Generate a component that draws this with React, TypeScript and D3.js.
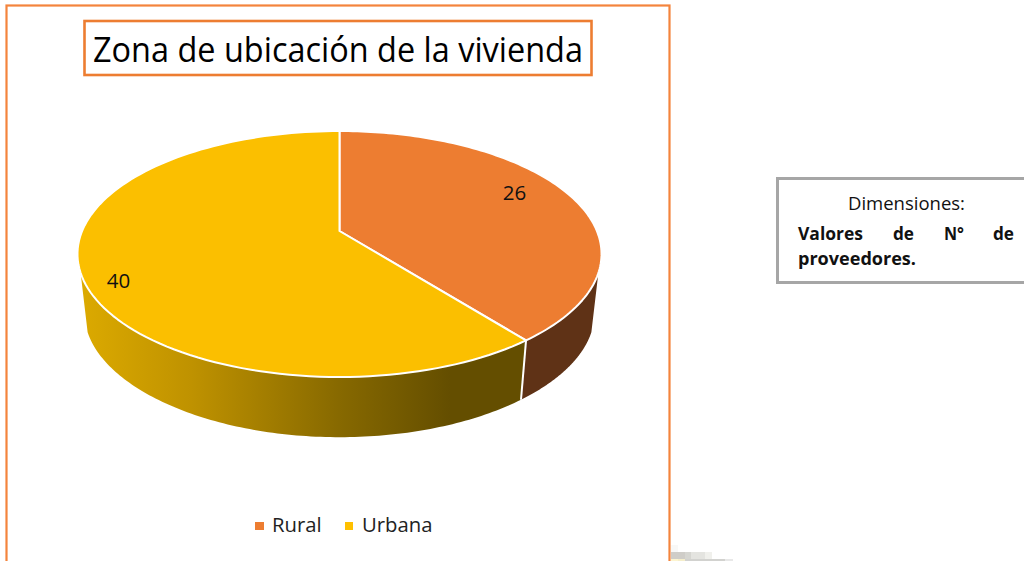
import React from "react";
import * as d3 from "d3";

const categories = ["Rural", "Urbana"];
const values = [26, 40];
const topColors = ["#ED7D31", "#FBBF00"];
const titleText = "Zona de ubicación de la vivienda";

const W = 1024, H = 561;
const CX = 339.5, CY = 231, A = 257.4, B = 118.7, P = 0.187;
const BOTTOM_Y0 = 291, BOTTOM_P = 0.21, SCALE = 0.973;
const VIS_START = (109.4 * Math.PI) / 180;
const VIS_END = (250.6 * Math.PI) / 180;

function rim(t: number, bottom = false): [number, number] {
  const c = Math.cos(t);
  const w = 1 + P * c;
  if (!bottom) return [CX + (A * Math.sin(t)) / w, CY - (B * c) / w];
  return [
    CX + (SCALE * A * Math.sin(t)) / w,
    BOTTOM_Y0 - (SCALE * B * c) / (1 + BOTTOM_P * c),
  ];
}

function angles(a0: number, a1: number) {
  return d3.range(0, 121).map((i) => a0 + ((a1 - a0) * i) / 120);
}

const line = d3.line<[number, number]>();

const smudge: [number, number, number, number, string][] = [
  [671, 545, 7, 7, "#f8f8f7"],
  [671, 552, 14, 7, "#cfcdc8"],
  [685, 552, 6, 7, "#d6d6d1"],
  [691, 552, 14, 7, "#e4e4e0"],
  [705, 552, 7, 7, "#f0f0ec"],
  [671, 559, 7, 2, "#fdf5d0"],
  [678, 559, 7, 2, "#f5eecb"],
  [685, 559, 40, 2, "#d2d2cf"],
  [725, 559, 8, 2, "#e8e8e8"],
];

export default function App() {
  const arcs = d3.pie<number>().sort(null)(values);
  return (
    <svg
      width={W}
      height={H}
      style={{ position: "absolute", left: 0, top: 0, background: "#fff" }}
      fontFamily="'Open Sans', sans-serif"
    >
      <defs>
        <linearGradient id="urbanSide" gradientUnits="userSpaceOnUse" x1={80} x2={450} y1={0} y2={0}>
          <stop offset="0" stopColor="#DCAA00" />
          <stop offset="0.3" stopColor="#BF9200" />
          <stop offset="0.7" stopColor="#876900" />
          <stop offset="1" stopColor="#644E00" />
        </linearGradient>
      </defs>

      <rect x={6.5} y={5.5} width={663} height={600} fill="#fff" stroke="#F4843D" strokeWidth={2.2} />

      {smudge.map(([x, y, w, h, c], i) => (
        <rect key={i} x={x} y={y} width={w} height={h} fill={c} />
      ))}

      {arcs.map((d, i) => {
        const a0 = Math.max(d.startAngle, VIS_START);
        const a1 = Math.min(d.endAngle, VIS_END);
        const ts = angles(a0, a1);
        const pts = [...ts.map((t) => rim(t)), ...ts.slice().reverse().map((t) => rim(t, true))];
        return (
          <path
            key={`side-${categories[i]}`}
            d={line(pts) + "Z"}
            fill={i === 0 ? "#5F3216" : "url(#urbanSide)"}
          />
        );
      })}
      {arcs.slice(1).map((d) => (
        <path
          key="seam"
          d={line([rim(d.startAngle), rim(d.startAngle, true)]) || ""}
          stroke="#fff"
          strokeWidth={2}
          fill="none"
        />
      ))}
      {arcs.map((d, i) => {
        const pts: [number, number][] = [[CX, CY], ...angles(d.startAngle, d.endAngle).map((t) => rim(t))];
        return (
          <path
            key={`top-${categories[i]}`}
            d={line(pts) + "Z"}
            fill={topColors[i]}
            stroke="#fff"
            strokeWidth={2}
            strokeLinejoin="round"
          />
        );
      })}

      <text x={514.5} y={200} fontSize={20.5} textAnchor="middle" fill="#111">{values[0]}</text>
      <text x={118.5} y={288} fontSize={20.5} textAnchor="middle" fill="#111">{values[1]}</text>

      <rect x={84.5} y={21} width={507} height={54} fill="#fff" stroke="#ED7D31" strokeWidth={2.6} />
      <text x={338} y={62} fontSize={34} textAnchor="middle" fill="#000" textLength={490} lengthAdjust="spacingAndGlyphs">{titleText}</text>

      <rect x={255} y={522} width={9} height={8} fill={topColors[0]} />
      <text x={272} y={532} fontSize={20.3} fill="#222">{categories[0]}</text>
      <rect x={345} y={522} width={8} height={8} fill="#FFC000" />
      <text x={362} y={532} fontSize={20.3} fill="#222">{categories[1]}</text>

      <rect x={777.5} y={178.5} width={260} height={104} fill="#fff" stroke="#A6A6A6" strokeWidth={3} />
      <g fill="#111">
        <text x={906.5} y={210} fontSize={17.5} textAnchor="middle" textLength={117} lengthAdjust="spacingAndGlyphs">Dimensiones:</text>
        <g fontSize={17} fontWeight={700}>
          <text x={798} y={240} textLength={65} lengthAdjust="spacingAndGlyphs">Valores</text>
          <text x={893} y={240} textLength={21} lengthAdjust="spacingAndGlyphs">de</text>
          <text x={944} y={240} textLength={20} lengthAdjust="spacingAndGlyphs">N°</text>
          <text x={993} y={240} textLength={21} lengthAdjust="spacingAndGlyphs">de</text>
          <text x={798} y={265} textLength={118} lengthAdjust="spacingAndGlyphs">proveedores.</text>
        </g>
      </g>
    </svg>
  );
}
